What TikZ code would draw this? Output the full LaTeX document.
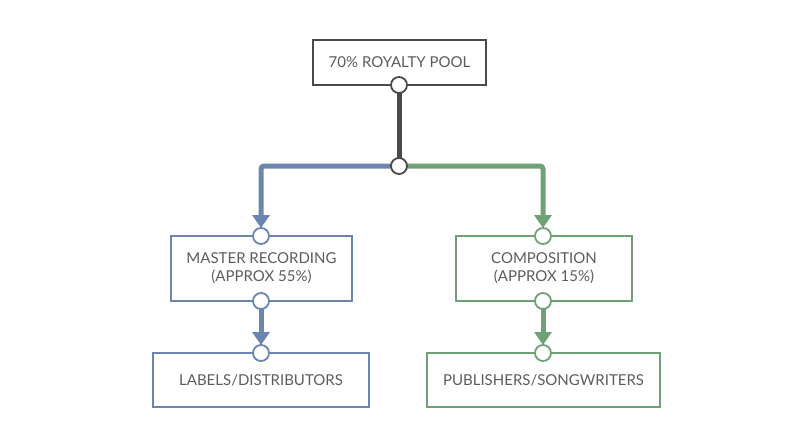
\documentclass[tikz,border=0pt]{standalone}
\usepackage{fontspec}
\setmainfont{Lato}
\usetikzlibrary{arrows.meta}
\definecolor{bl}{HTML}{6A85AE}
\definecolor{gr}{HTML}{6FA177}
\definecolor{dk}{HTML}{4A4A4A}
\begin{document}
\begin{tikzpicture}[x=1pt,y=-1pt,
  box/.style={draw=#1,line width=1.4pt,inner sep=0pt,font=\fontsize{15}{18}\selectfont,text=dk!90,align=center},
  dot/.style={circle,draw=#1,fill=white,line width=1.8pt,minimum size=16pt,inner sep=0pt},
  link/.style={draw=#1,line width=5pt},
  arr/.style={link=#1,-{Triangle[length=13pt,width=17pt]}}]
\useasboundingbox (0,0) rectangle (800,447);
\node[box=dk,minimum width=173pt,minimum height=45pt] (pool) at (399.5,62.5) {70\% ROYALTY POOL};
\node[box=bl,minimum width=181pt,minimum height=65pt] (mr) at (261.5,268.5) {MASTER RECORDING\\(APPROX 55\%)};
\node[box=gr,minimum width=176pt,minimum height=65pt] (co) at (544,268.5) {COMPOSITION\\(APPROX 15\%)};
\node[box=bl,minimum width=216pt,minimum height=54pt] (lab) at (261,380) {LABELS/DISTRIBUTORS};
\node[box=gr,minimum width=233pt,minimum height=54pt] (pub) at (543.5,380) {PUBLISHERS/SONGWRITERS};
\coordinate (d0) at (399,85);
\coordinate (j) at (399,166);
\coordinate (ctl) at (261,166);
\coordinate (ctr) at (543,166);
\coordinate (m1) at (261,228);
\coordinate (m2) at (261,301);
\coordinate (l1) at (261,345);
\coordinate (c1) at (543,228);
\coordinate (c2) at (543,301);
\coordinate (p1) at (543,345);
\draw[link=dk] (d0) -- (j);
\draw[arr=bl,rounded corners=3pt] (j) -- (ctl) -- (m1);
\draw[arr=gr,rounded corners=3pt] (j) -- (ctr) -- (c1);
\draw[arr=bl] (m2) -- (l1);
\draw[arr=gr] (c2) -- (p1);
\node[dot=dk] (d0c) at (d0) {};
\node[dot=dk] (jc) at (j) {};
\node[dot=bl] (m1c) at (261,236) {};
\node[dot=bl] (m2c) at (m2) {};
\node[dot=bl] (l1c) at (261,353) {};
\node[dot=gr] (c1c) at (543,236) {};
\node[dot=gr] (c2c) at (c2) {};
\node[dot=gr] (p1c) at (543,353) {};
\end{tikzpicture}
\end{document}
